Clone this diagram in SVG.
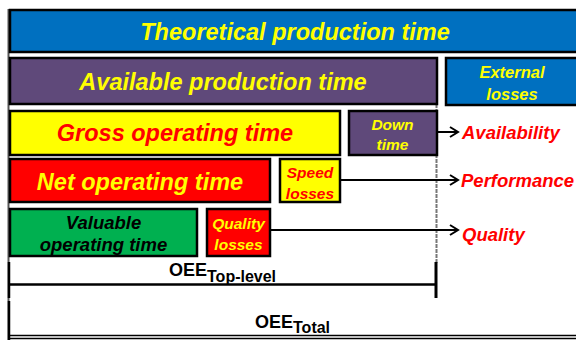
<svg xmlns="http://www.w3.org/2000/svg" width="576" height="340" viewBox="0 0 576 340">
<style>
.box{stroke:#000;stroke-width:2.5}
.t{font-family:"Liberation Sans",Arial,sans-serif;font-weight:bold;font-style:italic;text-anchor:middle}
.big{font-size:23.5px}
.sm{font-size:15.5px}
.y{fill:#FFFF00}
.r{fill:#FF0000}
.k{fill:#000}
.lab{font-family:"Liberation Sans",Arial,sans-serif;font-weight:bold;font-style:italic;font-size:18.5px;fill:#FF0000}
.oee{font-family:"Liberation Sans",Arial,sans-serif;font-weight:bold;fill:#000}
.conn{stroke:#000;stroke-width:2;fill:none}
</style>
<defs>
<marker id="arr" markerUnits="userSpaceOnUse" markerWidth="12" markerHeight="12" refX="10" refY="6" orient="auto">
<path d="M2,1 L10,6 L2,11" fill="none" stroke="#000" stroke-width="2"/>
</marker>
</defs>
<rect width="576" height="340" fill="#fff"/>
<g id="guides">
<line x1="8.5" y1="9" x2="8.5" y2="340" stroke="#555" stroke-width="2"/>
<line x1="436.5" y1="104" x2="436.5" y2="263" stroke="#777" stroke-width="2" stroke-dasharray="4,1"/>
</g>
<g id="theoretical">
<rect class="box" x="10" y="10" width="580" height="42" fill="#0070C0"/>
<text class="t big y" x="295" y="40">Theoretical production time</text>
</g>
<g id="available">
<rect class="box" x="10" y="58" width="427" height="46" fill="#5F497A"/>
<text class="t big y" x="223" y="89.5">Available production time</text>
</g>
<g id="external">
<rect class="box" x="446" y="58" width="140" height="47" fill="#0070C0"/>
<text class="t y" style="font-size:16.5px" x="512" y="78">External</text>
<text class="t y" style="font-size:16.5px" x="512" y="100">losses</text>
</g>
<g id="gross">
<rect class="box" x="10" y="111" width="330" height="44" fill="#FFFF00"/>
<text class="t big r" x="175" y="141">Gross operating time</text>
</g>
<g id="down">
<rect class="box" x="349" y="111" width="88" height="44" fill="#5F497A"/>
<text class="t sm y" x="392.5" y="130">Down</text>
<text class="t sm y" x="392.5" y="150">time</text>
</g>
<g id="net">
<rect class="box" x="10" y="159" width="260" height="43" fill="#FF0000"/>
<text class="t big y" x="140" y="189.5">Net operating time</text>
</g>
<g id="speed">
<rect class="box" x="280" y="159" width="60" height="43" fill="#FFFF00"/>
<text class="t sm r" x="310" y="178">Speed</text>
<text class="t sm r" x="310" y="199">losses</text>
</g>
<g id="valuable">
<rect class="box" x="10" y="209" width="187" height="47" fill="#00B050"/>
<text class="t k" style="font-size:18.5px" x="103.5" y="229">Valuable</text>
<text class="t k" style="font-size:18.5px" x="103.5" y="251">operating time</text>
</g>
<g id="quality">
<rect class="box" x="207" y="209" width="63" height="47" fill="#FF0000"/>
<text class="t sm y" x="238.5" y="229">Quality</text>
<text class="t sm y" x="238.5" y="250">losses</text>
</g>
<g id="connectors">
<line class="conn" x1="437" y1="132" x2="458" y2="132" marker-end="url(#arr)"/>
<line class="conn" x1="340" y1="180" x2="458" y2="180" marker-end="url(#arr)"/>
<line class="conn" x1="270" y1="230" x2="458" y2="230" marker-end="url(#arr)"/>
</g>
<g id="kpis">
<text class="lab" x="462" y="139">Availability</text>
<text class="lab" x="461" y="187">Performance</text>
<text class="lab" x="462" y="241">Quality</text>
</g>
<g id="oee-top">
<line x1="9" y1="262" x2="9" y2="298" stroke="#000" stroke-width="2.5"/>
<line x1="10" y1="284.5" x2="436" y2="284.5" stroke="#000" stroke-width="2.5"/>
<line x1="436" y1="262" x2="436" y2="298" stroke="#000" stroke-width="3"/>
<text class="oee" x="169" y="276" style="font-size:18px">OEE<tspan dy="6" style="font-size:16px">Top-level</tspan></text>
</g>
<g id="oee-total">
<line x1="9" y1="301" x2="9" y2="340" stroke="#000" stroke-width="2.5"/>
<line x1="10" y1="335.5" x2="576" y2="335.5" stroke="#000" stroke-width="1.5"/>
<line x1="10" y1="338.5" x2="576" y2="338.5" stroke="#000" stroke-width="1.5"/>
<text class="oee" x="255" y="328" style="font-size:18px">OEE<tspan dy="5" style="font-size:16px">Total</tspan></text>
</g>
</svg>
